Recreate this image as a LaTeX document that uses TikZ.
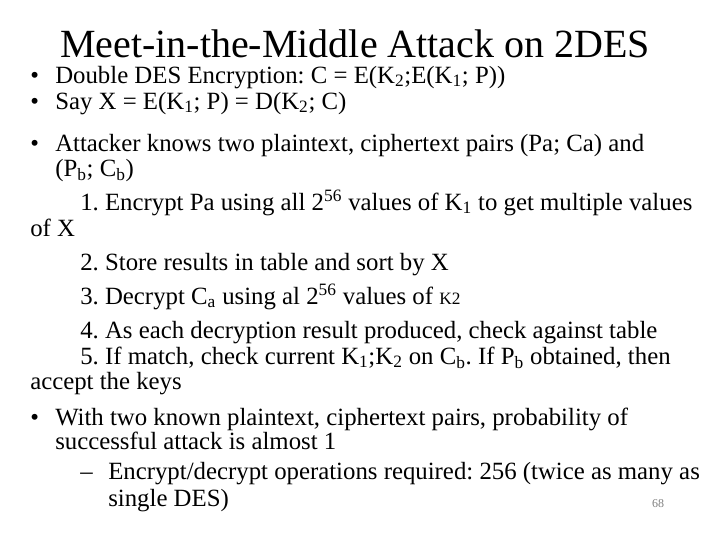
\documentclass[tikz,border=0pt]{standalone}
\usepackage{fontspec}
\setmainfont{Liberation Serif}
\frenchspacing
\newcommand{\sub}[1]{\textsubscript{#1}}
\newcommand{\sups}[1]{\textsuperscript{#1}}
\begin{document}
\begin{tikzpicture}[x=0.75pt,y=-0.75pt,
  body/.style={anchor=base west,inner sep=0pt,font=\fontsize{18.6}{20}\selectfont}]
\useasboundingbox (0,0) rectangle (720,540);
\node[anchor=base,inner sep=0pt,font=\fontsize{30}{32}\selectfont] (title) at (355,57) {Meet-in-the-Middle Attack on 2DES};
% bullets
\node[body] (b1) at (30,83) {•};
\node[body] (l1) at (55,83) {Double DES Encryption: C = E(K\sub{2};E(K\sub{1}; P))};
\node[body] (b2) at (30,109) {•};
\node[body] (l2) at (55,109) {Say X = E(K\sub{1}; P) = D(K\sub{2}; C)};
\node[body] (b3) at (30,151) {•};
\node[body] (l3) at (55,151) {Attacker knows two plaintext, ciphertext pairs (Pa; Ca) and};
\node[body] (l4) at (55,176) {(P\sub{b}; C\sub{b})};
\node[body] (l5) at (80,210) {1. Encrypt Pa using all 2\sups{56} values of K\sub{1} to get multiple values};
\node[body] (l6) at (30,236) {of X};
\node[body] (l7) at (80,270) {2. Store results in table and sort by X};
\node[body] (l8) at (80,304) {3. Decrypt C\sub{a} using al 2\sups{56} values of {\fontsize{13}{14}\selectfont K2}};
\node[body] (l9) at (80,338) {4. As each decryption result produced, check against table};
\node[body] (l10) at (80,364) {5. If match, check current K\sub{1};K\sub{2} on C\sub{b}. If P\sub{b} obtained, then};
\node[body] (l11) at (30,389) {accept the keys};
\node[body] (b4) at (30,425) {•};
\node[body] (l12) at (55,425) {With two known plaintext, ciphertext pairs, probability of};
\node[body] (l13) at (55,449) {successful attack is almost 1};
\node[body] (d1) at (80,479) {–};
\node[body] (l14) at (108,479) {Encrypt/decrypt operations required: 256 (twice as many as};
\node[body] (l15) at (108,506) {single DES)};
\node[anchor=base,inner sep=0pt,font=\fontsize{9}{10}\selectfont,text=gray] (pg) at (658,507) {68};
\end{tikzpicture}
\end{document}
